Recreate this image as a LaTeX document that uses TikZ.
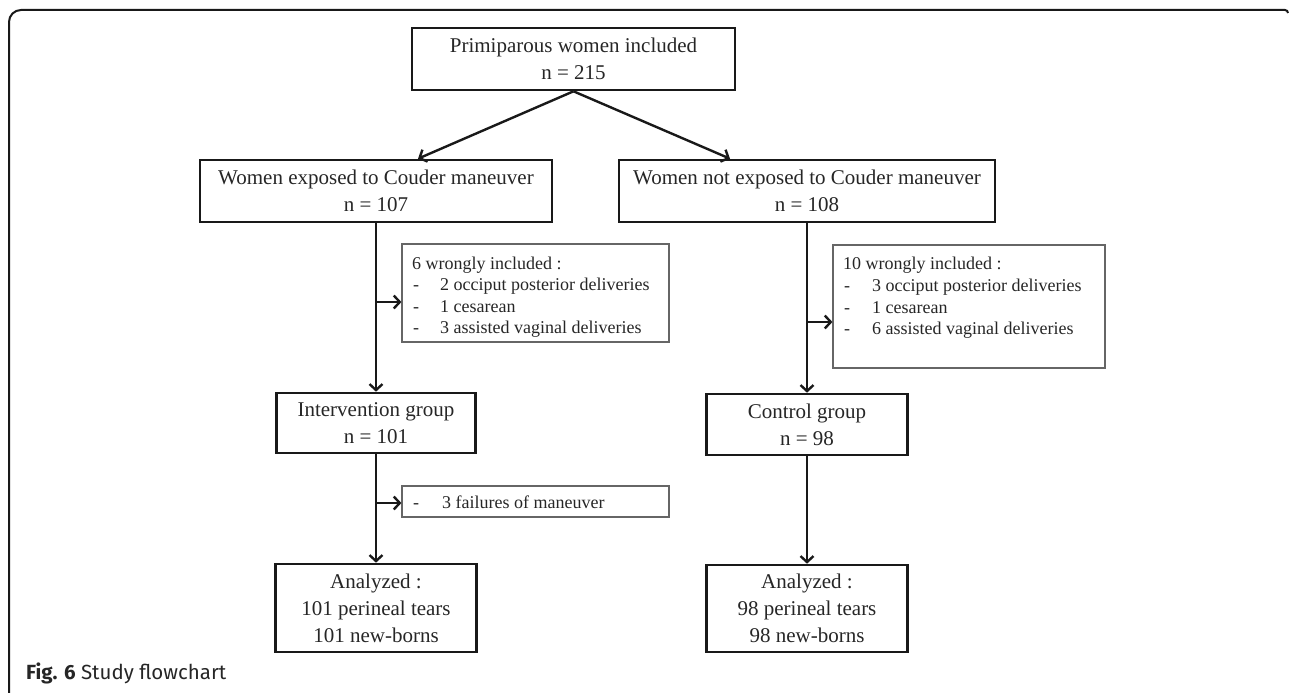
\documentclass[tikz,border=0pt]{standalone}
\usepackage{fontspec}
\setmainfont{Liberation Serif}
\newfontfamily\capfont{Fira Sans}
\usetikzlibrary{arrows.meta}
\begin{document}
\begin{tikzpicture}[x=1pt,y=-1pt,
  mainbox/.style={draw=black!90, line width=2.6pt, inner sep=0pt, align=center,
    font=\fontsize{21}{27}\selectfont, text=black!85},
  exbox/.style={draw=black!60, line width=1.2pt, inner sep=0pt},
  extext/.style={inner sep=0pt, anchor=base west, font=\fontsize{18}{21}\selectfont, text=black!85},
  arr/.style={line width=2.4pt, draw=black!90, -{Straight Barb[length=6pt,width=13pt,line width=2.4pt]}},
  frame/.style={line width=2pt, draw=black!90}]
\useasboundingbox (0,0) rectangle (1290,693);
% outer frame
\draw[frame] (9,693) -- (9,22) arc[start angle=180,end angle=270,radius=12] -- (1285,10) arc[start angle=270,end angle=360,radius=3];
% main boxes
\node[mainbox, minimum width=323pt, minimum height=62pt] (top) at (573.5,59) {Primiparous women included\\n = 215};
\node[mainbox, minimum width=352pt, minimum height=62pt] (L1) at (376,191) {Women exposed to Couder maneuver\\n = 107};
\node[mainbox, minimum width=376pt, minimum height=62pt] (R1) at (807,191) {Women not exposed to Couder maneuver\\n = 108};
\node[mainbox, minimum width=199pt, minimum height=60pt] (IG) at (376,423) {Intervention group\\n = 101};
\node[mainbox, minimum width=201pt, minimum height=61pt] (CG) at (807,424.5) {Control group\\n = 98};
\node[mainbox, minimum width=201pt, minimum height=88pt] (AL) at (376,608) {Analyzed :\\101 perineal tears\\101 new-borns};
\node[mainbox, minimum width=201pt, minimum height=87pt] (AR) at (807,608.5) {Analyzed :\\98 perineal tears\\98 new-borns};
% exclusion boxes
\node[exbox, minimum width=267pt, minimum height=98pt] (EL) at (535.5,293) {};
\node[exbox, minimum width=272pt, minimum height=123pt] (ER) at (969,306.5) {};
\node[exbox, minimum width=267pt, minimum height=31pt] (EF) at (535.5,501.5) {};
% exclusion texts left
\node[extext] (el0) at (412,269) {6 wrongly included :};
\node[extext] (el1d) at (413,290) {-};
\node[extext] (el1) at (440,290) {2 occiput posterior deliveries};
\node[extext] (el2d) at (413,312) {-};
\node[extext] (el2) at (440,312) {1 cesarean};
\node[extext] (el3d) at (413,333) {-};
\node[extext] (el3) at (440,333) {3 assisted vaginal deliveries};
% exclusion texts right
\node[extext] (er0) at (843,269) {10 wrongly included :};
\node[extext] (er1d) at (844,291) {-};
\node[extext] (er1) at (872,291) {3 occiput posterior deliveries};
\node[extext] (er2d) at (844,313) {-};
\node[extext] (er2) at (872,313) {1 cesarean};
\node[extext] (er3d) at (844,334) {-};
\node[extext] (er3) at (872,334) {6 assisted vaginal deliveries};
% failure text
\node[extext] (ef1d) at (413,508) {-};
\node[extext] (ef1) at (442,508) {3 failures of maneuver};
% connectors
\draw[arr] (top.south) -- ([xshift=42pt]L1.north);
\draw[arr] (top.south) -- ([xshift=-77pt]R1.north);
\draw[arr] (L1.south) -- (IG.north);
\draw[arr] (R1.south) -- (CG.north);
\draw[arr] (IG.south) -- (AL.north);
\draw[arr] (CG.south) -- (AR.north);
\coordinate (bl) at (376,302);
\coordinate (br) at (807,322);
\coordinate (bf) at (376,503);
\draw[arr] (bl) -- (EL.west |- bl);
\draw[arr] (br) -- (ER.west |- br);
\draw[arr] (bf) -- (EF.west |- bf);
% caption
\node[inner sep=0pt, anchor=base west, text=black!85] (cap) at (26,679) {\capfont\fontsize{20.5}{24}\selectfont\textbf{Fig. 6} Study flowchart};
\end{tikzpicture}
\end{document}
